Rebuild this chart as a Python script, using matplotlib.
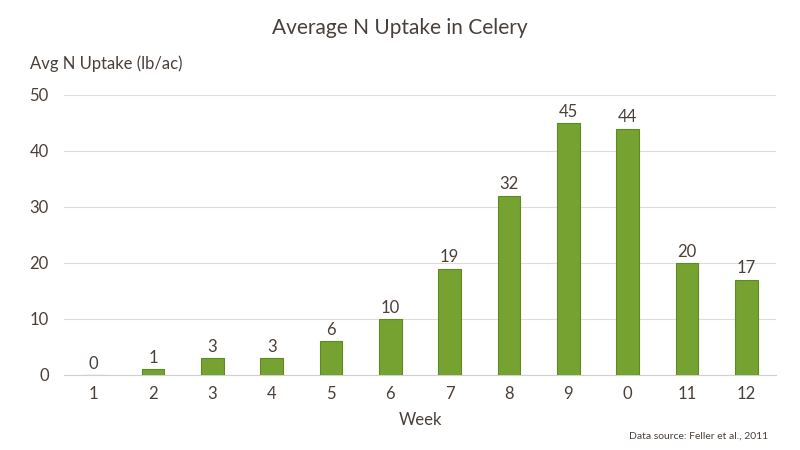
import matplotlib
matplotlib.use("Agg")
import matplotlib.pyplot as plt

weeks = ["1", "2", "3", "4", "5", "6", "7", "8", "9", "0", "11", "12"]
uptake = [0, 1, 3, 3, 6, 10, 19, 32, 45, 44, 20, 17]
yticks = [0, 10, 20, 30, 40, 50]

plt.rcParams['font.family'] = ['Lato', 'DejaVu Sans']
txt = '#4a403b'
bar_c = '#76a232'
edge_c = '#5f8a22'

fig = plt.figure(figsize=(8, 4.5), dpi=100)
ax = fig.add_axes([0.08, 0.1667, 0.89, 0.6222])
x = list(range(len(weeks)))
bars = ax.bar(x, uptake, width=0.38, color=bar_c, edgecolor=edge_c, linewidth=0.8, zorder=3)
for xi, v in zip(x, uptake):
    ax.annotate(str(v), (xi, v), xytext=(0, 2.5), textcoords='offset points',
                ha='center', va='bottom', fontsize=12, color=txt)

ax.set_xlim(-0.5, len(weeks) - 0.5)
ax.set_ylim(0, 50)
ax.set_yticks(yticks)
ax.set_xticks(x)
ax.set_xticklabels(weeks)
ax.yaxis.grid(True, color='#dddddd', linewidth=0.8, zorder=0)
for s in ['top', 'right', 'left']:
    ax.spines[s].set_visible(False)
ax.spines['bottom'].set_color('#d0d0d0')
ax.spines['bottom'].set_linewidth(0.8)
ax.tick_params(axis='both', length=0, labelsize=12, labelcolor=txt)
ax.tick_params(axis='y', pad=11)
ax.tick_params(axis='x', pad=8)
ax.set_xlabel('Week', fontsize=12, color=txt, labelpad=7)

fig.text(0.5, 0.938, 'Average N Uptake in Celery', ha='center', va='center', fontsize=15, color=txt)
fig.text(0.037, 0.858, 'Avg N Uptake (lb/ac)', ha='left', va='center', fontsize=12, color=txt)
fig.text(0.96, 0.031, 'Data source: Feller et al., 2011', ha='right', va='center', fontsize=7.5, color=txt)

fig.savefig('out.png', dpi=100)
